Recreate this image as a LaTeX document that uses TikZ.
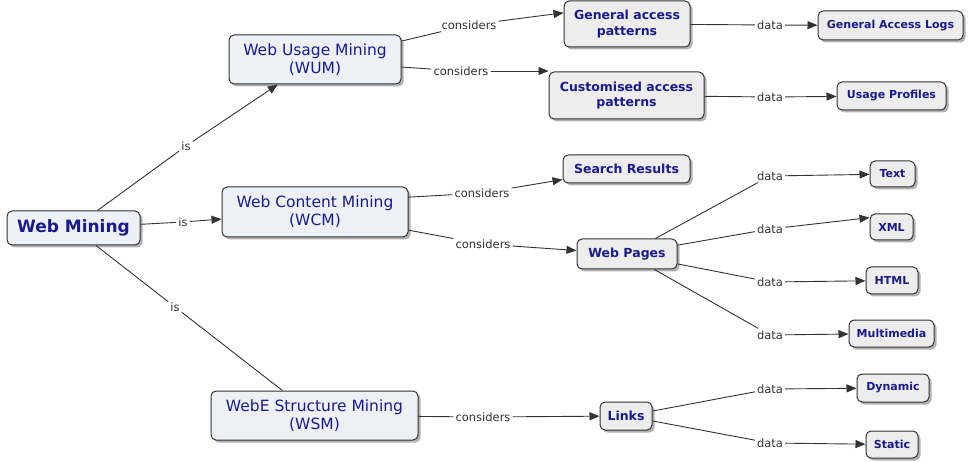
\documentclass[tikz,border=0pt]{standalone}
\usepackage{fontspec}
\setmainfont{DejaVu Sans}
\usetikzlibrary{arrows.meta,shadows,calc}
\definecolor{txt}{HTML}{1A1A8C}
\definecolor{edge}{HTML}{333333}
\definecolor{lbltxt}{HTML}{333333}
\definecolor{mainfill}{HTML}{EDF1F6}
\definecolor{subfill}{HTML}{EDEDED}
\begin{document}
\begin{tikzpicture}[x=1pt,y=-1pt,
  box/.style={draw=edge, rounded corners=5pt, line width=1pt, text=txt, align=center, inner sep=2pt,
    drop shadow={shadow xshift=2.5pt, shadow yshift=-2.5pt, opacity=0.3, fill=black}},
  mainbox/.style={box, fill=mainfill, font=\fontsize{15.5}{18}\selectfont},
  subbox/.style={box, fill=subfill, font=\bfseries\fontsize{12.5}{15.5}\selectfont},
  leafbox/.style={box, fill=subfill, font=\bfseries\fontsize{11}{13}\selectfont},
  lbl/.style={text=lbltxt, font=\fontsize{11.5}{13}\selectfont, inner sep=2pt},
  con/.style={draw=edge, line width=0.9pt},
  arr/.style={con, -{Triangle[length=10pt,width=8pt]}}]
\fill[white] (0,0) rectangle (969,462);
\useasboundingbox (0,0) rectangle (969,462);

% nodes
\node[mainbox, minimum width=133pt, minimum height=34pt, font=\bfseries\fontsize{17}{20}\selectfont] (wm) at (73.5,228) {Web Mining};
\node[mainbox, minimum width=172pt, minimum height=49pt] (wum) at (315,59.5) {Web Usage Mining\\(WUM)};
\node[mainbox, minimum width=186pt, minimum height=50pt] (wcm) at (315,212) {Web Content Mining\\(WCM)};
\node[mainbox, minimum width=207pt, minimum height=49pt] (wsm) at (314.5,415.5) {WebE Structure Mining\\(WSM)};

\node[subbox, minimum width=126pt, minimum height=46pt] (gap) at (627,24) {General access\\patterns};
\node[subbox, minimum width=155pt, minimum height=47pt] (cap) at (626.5,95.5) {Customised access\\patterns};
\node[subbox, minimum width=127pt, minimum height=28pt] (sr) at (626.5,169) {Search Results};
\node[subbox, minimum width=100pt, minimum height=30pt] (wp) at (627,254) {Web Pages};
\node[subbox, minimum width=52pt, minimum height=28pt] (links) at (626,416) {Links};

\node[leafbox, minimum width=145pt, minimum height=29pt] (gal) at (890.5,25.5) {General Access Logs};
\node[leafbox, minimum width=109pt, minimum height=28pt] (up) at (891.5,96) {Usage Profiles};
\node[leafbox, minimum width=45pt, minimum height=26pt] (text) at (892.5,174) {Text};
\node[leafbox, minimum width=43pt, minimum height=26pt] (xml) at (891.5,227) {XML};
\node[leafbox, minimum width=52pt, minimum height=27pt] (html) at (892,280.5) {HTML};
\node[leafbox, minimum width=85pt, minimum height=27pt] (mm) at (891.5,333.5) {Multimedia};
\node[leafbox, minimum width=72pt, minimum height=28pt] (dyn) at (893,388) {Dynamic};
\node[leafbox, minimum width=52pt, minimum height=27pt] (static) at (892,444.5) {Static};

% labels
\node[lbl] (i1) at (186,146) {is};
\node[lbl] (i2) at (183,222) {is};
\node[lbl] (i3) at (175,307) {is};
\node[lbl] (c1) at (469,25) {considers};
\node[lbl] (c2) at (461,71) {considers};
\node[lbl] (c3) at (482,193) {considers};
\node[lbl] (c4) at (483,244) {considers};
\node[lbl] (c5) at (483,417) {considers};
\node[lbl] (d1) at (770,25) {data};
\node[lbl] (d2) at (770,97) {data};
\node[lbl] (d3) at (770,176) {data};
\node[lbl] (d4) at (770,229) {data};
\node[lbl] (d5) at (770,282) {data};
\node[lbl] (d6) at (770,335) {data};
\node[lbl] (d7) at (770,389) {data};
\node[lbl] (d8) at (770,443) {data};

% connectors
\draw[con] (wm) -- (i1); \draw[arr] (i1) -- (wum);
\draw[con] (wm) -- (i2); \draw[arr] (i2) -- (wcm);
\draw[con] (wm) -- (i3); \draw[con] (i3) -- (wsm);

\draw[con] (wum.12) -- (c1); \draw[arr] (c1) -- (gap.170);
\draw[con] (wum.-5) -- (c2); \draw[arr] (c2) -- (c2 -| cap.west);
\draw[con] (wcm.9) -- (c3); \draw[arr] (c3) -- (sr);
\draw[con] (wcm.-11) -- (c4); \draw[arr] (c4) -- (wp);
\draw[con] (wsm) -- (c5); \draw[arr] (c5) -- (links);

\draw[con] (gap) -- (d1); \draw[arr] (d1) -- (gal);
\draw[con] (cap) -- (d2); \draw[arr] (d2) -- (up);
\draw[con] (wp) -- (d3); \draw[arr] (d3) -- (text);
\draw[con] (wp) -- (d4); \draw[arr] (d4) -- (xml.157);
\draw[con] (wp) -- (d5); \draw[arr] (d5) -- (html);
\draw[con] (wp) -- (d6); \draw[arr] (d6) -- (mm);
\draw[con] (links) -- (d7); \draw[arr] (d7) -- (dyn);
\draw[con] (links) -- (d8); \draw[arr] (d8) -- (static);
\end{tikzpicture}
\end{document}
